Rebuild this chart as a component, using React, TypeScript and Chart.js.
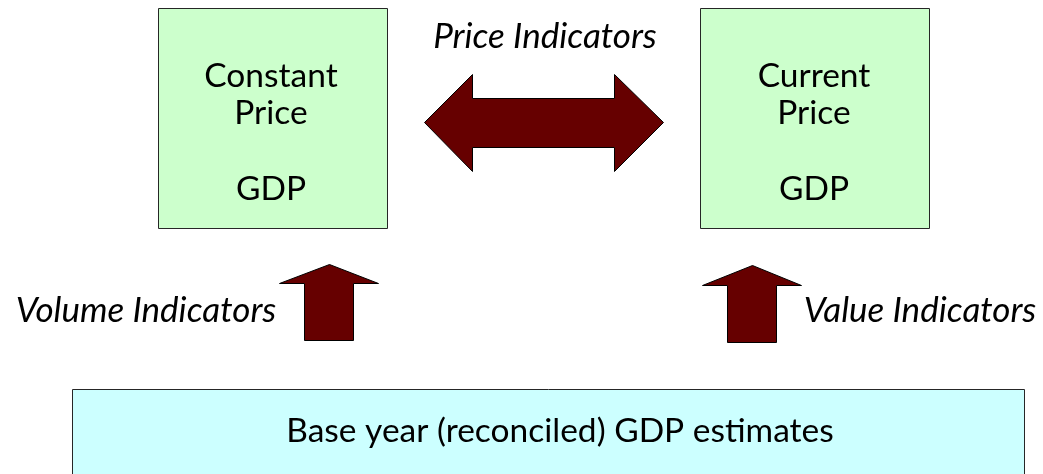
import React, { useEffect, useRef } from "react";
import { Chart, registerables } from "chart.js";

Chart.register(...registerables);

// Diagram extent (chart units)
const xRange = [0, 1043];
const yRange = [0, 474];

// Shapes (polygon vertices in chart units)
const constantBoxX = [158, 387, 387, 158];
const constantBoxY = [8, 8, 228, 228];
const currentBoxX = [700, 929, 929, 700];
const currentBoxY = [8, 8, 228, 228];
const baseBoxX = [72, 1024, 1024, 72];
const baseBoxY = [389, 389, 480, 480];
const priceArrowX = [424, 472, 472, 614, 614, 663, 614, 614, 472, 472];
const priceArrowY = [122, 74, 98, 98, 74, 122, 171, 147, 147, 171];
const volumeArrowX = [329, 378, 353, 353, 304, 304, 279];
const volumeArrowY = [264, 283, 283, 340, 340, 283, 283];
const valueArrowX = [752, 801, 776, 776, 727, 727, 702];
const valueArrowY = [265, 285, 285, 342, 342, 285, 285];

// Text labels
const labelTexts = ["Constant", "Price", "GDP", "Current", "Price", "GDP", "Price Indicators", "Volume Indicators", "Value Indicators", "Base year (reconciled) GDP estimates"];
const labelX = [271, 271, 271, 814, 814, 814, 545, 146, 920, 560];
const labelY = [87, 124, 200, 87, 124, 200, 48, 322, 322, 442];
const labelItalic = [false, false, false, false, false, false, true, true, true, false];

const BOX_GREEN = "#CCFFCC";
const BOX_CYAN = "#CCFFFF";
const ARROW = "#660000";

function poly(xs: number[], ys: number[]) {
  return xs.map((x, i) => ({ x, y: ys[i] }));
}

const polygonPlugin = {
  id: "polygons",
  beforeDatasetsDraw(chart: any) {
    const ctx = chart.ctx;
    chart.data.datasets.forEach((ds: any, i: number) => {
      const meta = chart.getDatasetMeta(i);
      const pts = meta.data;
      if (!pts.length) return;
      ctx.save();
      ctx.beginPath();
      pts.forEach((p: any, k: number) => {
        const px = Math.round(p.x) + 0.5;
        const py = Math.round(p.y) + 0.5;
        if (k === 0) ctx.moveTo(px, py);
        else ctx.lineTo(px, py);
      });
      ctx.closePath();
      ctx.fillStyle = ds.shapeFill;
      ctx.fill();
      ctx.lineWidth = 1;
      ctx.strokeStyle = ds.shapeStroke;
      ctx.stroke();
      ctx.restore();
    });
  },
  afterDatasetsDraw(chart: any) {
    const ctx = chart.ctx;
    const xs = chart.scales.x;
    const ys = chart.scales.y;
    ctx.save();
    ctx.fillStyle = "#000000";
    ctx.textAlign = "center";
    ctx.textBaseline = "alphabetic";
    labelTexts.forEach((t, i) => {
      ctx.font = labelItalic[i]
        ? `italic 35px Lato, "Open Sans", sans-serif`
        : `33.5px Lato, "Open Sans", sans-serif`;
      ctx.fillText(t, xs.getPixelForValue(labelX[i]), ys.getPixelForValue(labelY[i]));
    });
    ctx.restore();
  },
};

export default function App() {
  const ref = useRef<HTMLCanvasElement | null>(null);
  useEffect(() => {
    document.body.style.margin = "0";
    document.body.style.background = "#ffffff";
    if (!ref.current) return;
    const mk = (label: string, xs: number[], ys: number[], fill: string, stroke: string) => ({
      label,
      data: poly(xs, ys),
      pointRadius: 0,
      pointHoverRadius: 0,
      showLine: false,
      shapeFill: fill,
      shapeStroke: stroke,
    });
    const chart = new Chart(ref.current, {
      type: "scatter",
      data: {
        datasets: [
          mk("Constant Price GDP", constantBoxX, constantBoxY, BOX_GREEN, "#262626"),
          mk("Current Price GDP", currentBoxX, currentBoxY, BOX_GREEN, "#262626"),
          mk("Base year GDP", baseBoxX, baseBoxY, BOX_CYAN, "#262626"),
          mk("Price Indicators", priceArrowX, priceArrowY, ARROW, "#000000"),
          mk("Volume Indicators", volumeArrowX, volumeArrowY, ARROW, "#000000"),
          mk("Value Indicators", valueArrowX, valueArrowY, ARROW, "#000000"),
        ] as any,
      },
      options: {
        animation: false,
        responsive: false,
        maintainAspectRatio: false,
        events: [],
        layout: { padding: 0 },
        plugins: { legend: { display: false }, tooltip: { enabled: false }, title: { display: false } },
        scales: {
          x: { type: "linear", min: xRange[0], max: xRange[1], display: false },
          y: { type: "linear", min: yRange[0], max: yRange[1], reverse: true, display: false },
        },
      },
      plugins: [polygonPlugin],
    });
    return () => chart.destroy();
  }, []);
  return (
    <div style={{ width: 1043, height: 474, background: "#ffffff" }}>
      <canvas ref={ref} width={1043} height={474} style={{ display: "block" }} />
    </div>
  );
}
